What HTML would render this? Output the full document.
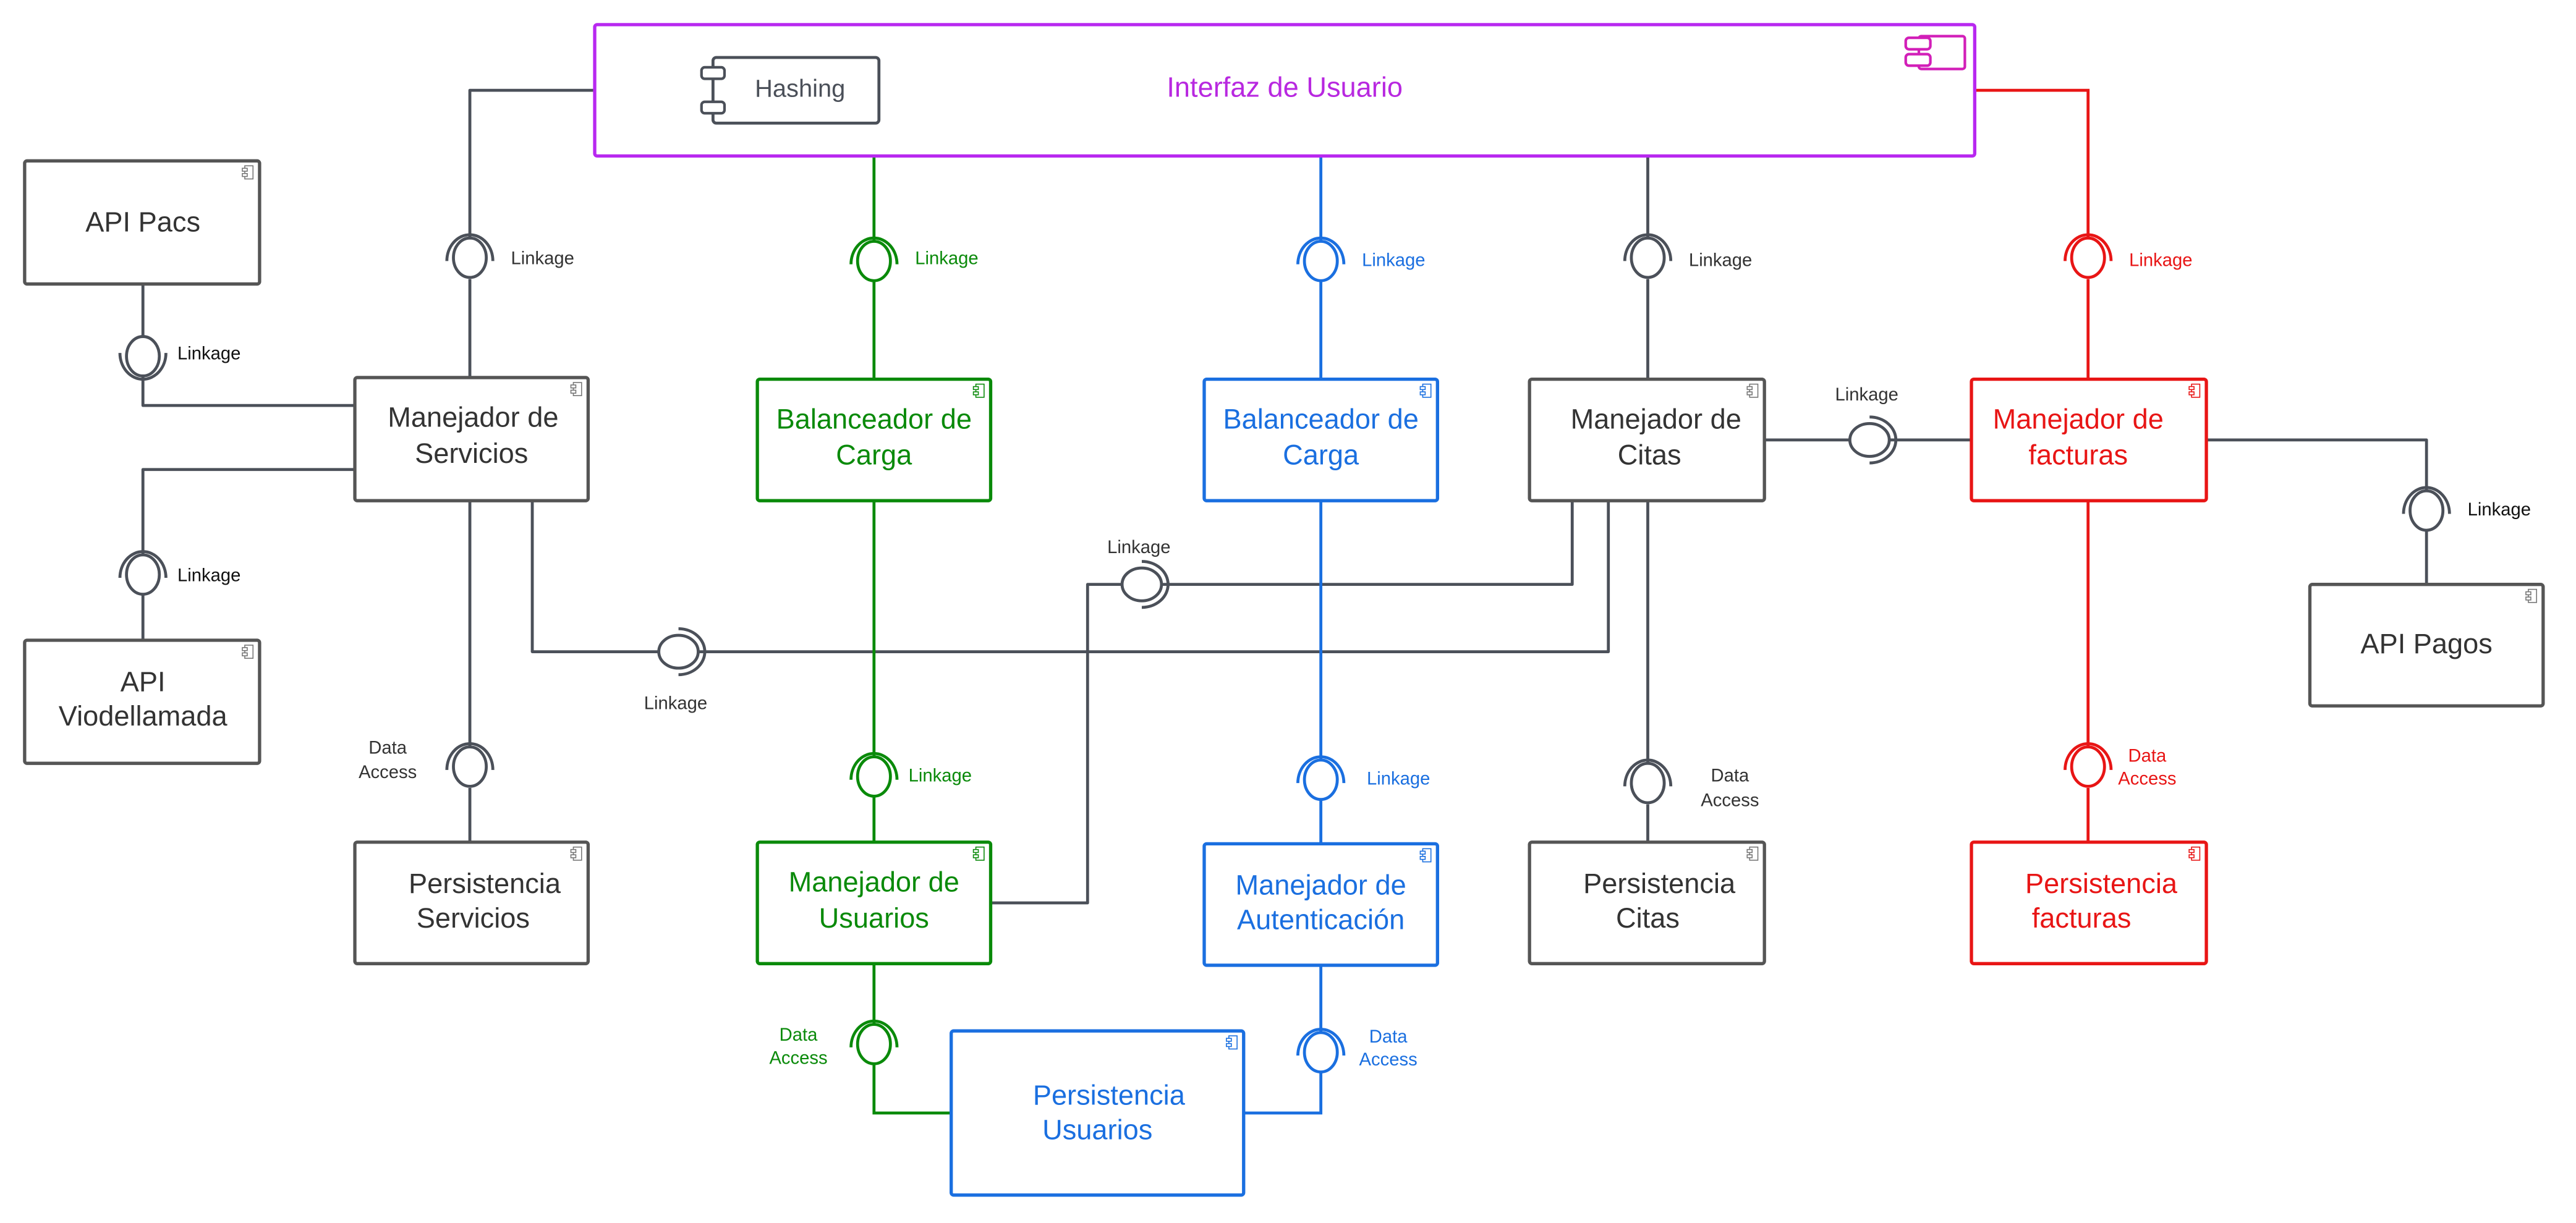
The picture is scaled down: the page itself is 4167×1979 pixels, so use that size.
<!DOCTYPE html>
<html><head><meta charset="utf-8"><style>
html,body{margin:0;padding:0;background:#fff;}
svg{display:block;}
text{font-family:"Liberation Sans",Arial,sans-serif;}
</style></head><body>
<svg width="4167" height="1979" viewBox="0 0 1568 745" preserveAspectRatio="none" xmlns="http://www.w3.org/2000/svg">
<defs>
<g id="ic"><rect x="0" y="0" width="5" height="8" fill="none" stroke-width="0.6"/><rect x="-1.5" y="1.5" width="3" height="1.8" fill="#fff" stroke-width="0.6"/><rect x="-1.5" y="4.7" width="3" height="1.8" fill="#fff" stroke-width="0.6"/></g>
</defs>
<rect width="1568" height="745" fill="#fff"/>

<!-- connectors gray -->
<g fill="none" stroke="#4b5059" stroke-width="1.8" stroke-linejoin="round">
<path d="M362,55 H286 V145 M286,170 V230"/>
<path d="M87,173 V205 M87,229 V247 H216"/>
<path d="M216,286 H87 V338 M87,362 V390"/>
<path d="M286,305 V455 M286,480 V513"/>
<path d="M324,305 V397 H401 M425,397 H979 V305"/>
<path d="M957,305 V356 H707 M684,356 H662 V550 H603"/>
<path d="M1003,305 V465 M1003,490 V513"/>
<path d="M1003,95 V145 M1003,170 V231"/>
<path d="M1074,268 H1126 M1150,268 H1200"/>
<path d="M1343,268 H1477 V299 M1477,323 V356"/>
</g>
<!-- balls gray -->
<g fill="#fff" stroke="#4b5059" stroke-width="1.8">
<ellipse cx="286" cy="157" rx="10" ry="12"/>
<ellipse cx="87" cy="217" rx="10" ry="12"/>
<ellipse cx="87" cy="350" rx="10" ry="12"/>
<ellipse cx="286" cy="467" rx="10" ry="12"/>
<ellipse cx="413" cy="397" rx="12" ry="10"/>
<ellipse cx="695" cy="356" rx="12" ry="10"/>
<ellipse cx="1003" cy="477" rx="10" ry="12"/>
<ellipse cx="1003" cy="157" rx="10" ry="12"/>
<ellipse cx="1138" cy="268" rx="12" ry="10"/>
<ellipse cx="1477" cy="311" rx="10" ry="12"/>
</g>
<g fill="none" stroke="#4b5059" stroke-width="1.8">
<path d="M272,159 A14,16 0 0 1 300,159"/>
<path d="M73,215 A14,16 0 0 0 101,215"/>
<path d="M73,352 A14,16 0 0 1 101,352"/>
<path d="M272,469 A14,16 0 0 1 300,469"/>
<path d="M413,383 A16,14 0 0 1 413,411"/>
<path d="M695,342 A16,14 0 0 1 695,370"/>
<path d="M989,479 A14,16 0 0 1 1017,479"/>
<path d="M989,159 A14,16 0 0 1 1017,159"/>
<path d="M1138,254 A16,14 0 0 1 1138,282"/>
<path d="M1463,313 A14,16 0 0 1 1491,313"/>
</g>

<!-- green -->
<g fill="none" stroke="#0a8a0a" stroke-width="1.8">
<path d="M532,95 V147 M532,171 V231"/>
<path d="M532,305 V461 M532,485 V513"/>
<path d="M532,587 V624 M532,648 V678 H579"/>
<ellipse cx="532" cy="159" rx="10" ry="12" fill="#fff"/>
<ellipse cx="532" cy="473" rx="10" ry="12" fill="#fff"/>
<ellipse cx="532" cy="636" rx="10" ry="12" fill="#fff"/>
<path d="M518,161 A14,16 0 0 1 546,161"/>
<path d="M518,475 A14,16 0 0 1 546,475"/>
<path d="M518,638 A14,16 0 0 1 546,638"/>
</g>
<!-- blue -->
<g fill="none" stroke="#1a6fe0" stroke-width="1.8">
<path d="M804,95 V147 M804,171 V231"/>
<path d="M804,305 V463 M804,487 V514"/>
<path d="M804,588 V629 M804,653 V678 H757"/>
<ellipse cx="804" cy="159" rx="10" ry="12" fill="#fff"/>
<ellipse cx="804" cy="475" rx="10" ry="12" fill="#fff"/>
<ellipse cx="804" cy="641" rx="10" ry="12" fill="#fff"/>
<path d="M790,161 A14,16 0 0 1 818,161"/>
<path d="M790,477 A14,16 0 0 1 818,477"/>
<path d="M790,643 A14,16 0 0 1 818,643"/>
</g>
<!-- red -->
<g fill="none" stroke="#e81515" stroke-width="1.8">
<path d="M1202,55 H1271 V145 M1271,170 V231"/>
<path d="M1271,305 V455 M1271,480 V513"/>
<ellipse cx="1271" cy="157" rx="10" ry="12" fill="#fff"/>
<ellipse cx="1271" cy="467" rx="10" ry="12" fill="#fff"/>
<path d="M1257,159 A14,16 0 0 1 1285,159"/>
<path d="M1257,469 A14,16 0 0 1 1285,469"/>
</g>

<!-- Interfaz -->
<rect x="362" y="15" width="840" height="80" rx="1.5" fill="#fff" stroke="#b828f0" stroke-width="2"/>
<g fill="#fff" stroke="#d21fb8" stroke-width="1.6">
<rect x="1168" y="22" width="28" height="20" rx="1.5"/>
<rect x="1160" y="23" width="15" height="7" rx="2"/>
<rect x="1160" y="33" width="15" height="7" rx="2"/>
</g>
<text x="782" y="59" font-size="17" fill="#b828e0" text-anchor="middle">Interfaz de Usuario</text>
<rect x="434" y="35" width="101" height="40" rx="2" fill="#fff" stroke="#4b5059" stroke-width="1.8"/>
<rect x="427" y="41" width="14" height="7" rx="2" fill="#fff" stroke="#4b5059" stroke-width="1.6"/>
<rect x="427" y="62" width="14" height="7" rx="2" fill="#fff" stroke="#4b5059" stroke-width="1.6"/>
<text x="487" y="59" font-size="15" fill="#4b5059" text-anchor="middle">Hashing</text>

<!-- boxes -->
<g fill="#fff" stroke-width="2">
<rect x="15" y="98" width="143" height="75" rx="1.5" stroke="#555"/>
<rect x="216" y="230" width="142" height="75" rx="1.5" stroke="#555"/>
<rect x="461" y="231" width="142" height="74" rx="1.5" stroke="#0a8a0a"/>
<rect x="733" y="231" width="142" height="74" rx="1.5" stroke="#1a6fe0"/>
<rect x="931" y="231" width="143" height="74" rx="1.5" stroke="#555"/>
<rect x="1200" y="231" width="143" height="74" rx="1.5" stroke="#e81515"/>
<rect x="1406" y="356" width="142" height="74" rx="1.5" stroke="#555"/>
<rect x="15" y="390" width="143" height="75" rx="1.5" stroke="#555"/>
<rect x="216" y="513" width="142" height="74" rx="1.5" stroke="#555"/>
<rect x="461" y="513" width="142" height="74" rx="1.5" stroke="#0a8a0a"/>
<rect x="733" y="514" width="142" height="74" rx="1.5" stroke="#1a6fe0"/>
<rect x="931" y="513" width="143" height="74" rx="1.5" stroke="#555"/>
<rect x="1200" y="513" width="143" height="74" rx="1.5" stroke="#e81515"/>
<rect x="579" y="628" width="178" height="100" rx="1.5" stroke="#1a6fe0"/>
</g>
<g>
<use href="#ic" x="149" y="101" stroke="#777"/>
<use href="#ic" x="349" y="233" stroke="#777"/>
<use href="#ic" x="594" y="234" stroke="#0a8a0a"/>
<use href="#ic" x="866" y="234" stroke="#1a6fe0"/>
<use href="#ic" x="1065" y="234" stroke="#777"/>
<use href="#ic" x="1334" y="234" stroke="#e81515"/>
<use href="#ic" x="1539" y="359" stroke="#777"/>
<use href="#ic" x="149" y="393" stroke="#777"/>
<use href="#ic" x="349" y="516" stroke="#777"/>
<use href="#ic" x="594" y="516" stroke="#0a8a0a"/>
<use href="#ic" x="866" y="517" stroke="#1a6fe0"/>
<use href="#ic" x="1065" y="516" stroke="#777"/>
<use href="#ic" x="1334" y="516" stroke="#e81515"/>
<use href="#ic" x="748" y="631" stroke="#1a6fe0"/>
</g>

<!-- box text -->
<g font-size="17" text-anchor="middle">
<text x="87" y="141" fill="#333">API Pacs</text>
<text x="288" y="260" fill="#333">Manejador de</text><text x="287" y="282" fill="#333">Servicios</text>
<text x="532" y="261" fill="#0a8a0a">Balanceador de</text><text x="532" y="283" fill="#0a8a0a">Carga</text>
<text x="804" y="261" fill="#1a6fe0">Balanceador de</text><text x="804" y="283" fill="#1a6fe0">Carga</text>
<text x="1008" y="261" fill="#333">Manejador de</text><text x="1004" y="283" fill="#333">Citas</text>
<text x="1265" y="261" fill="#e81515">Manejador de</text><text x="1265" y="283" fill="#e81515">facturas</text>
<text x="1477" y="398" fill="#333">API Pagos</text>
<text x="87" y="421" fill="#333">API</text><text x="87" y="442" fill="#333">Viodellamada</text>
<text x="295" y="544" fill="#333">Persistencia</text><text x="288" y="565" fill="#333">Servicios</text>
<text x="532" y="543" fill="#0a8a0a">Manejador de</text><text x="532" y="565" fill="#0a8a0a">Usuarios</text>
<text x="804" y="545" fill="#1a6fe0">Manejador de</text><text x="804" y="566" fill="#1a6fe0">Autenticación</text>
<text x="1010" y="544" fill="#333">Persistencia</text><text x="1003" y="565" fill="#333">Citas</text>
<text x="1279" y="544" fill="#e81515">Persistencia</text><text x="1267" y="565" fill="#e81515">facturas</text>
<text x="675" y="673" fill="#1a6fe0">Persistencia</text><text x="668" y="694" fill="#1a6fe0">Usuarios</text>
</g>

<!-- labels -->
<g font-size="11">
<text x="311" y="161" fill="#333">Linkage</text>
<text x="108" y="219" fill="#111">Linkage</text>
<text x="108" y="354" fill="#111">Linkage</text>
<text x="392" y="432" fill="#333">Linkage</text>
<text x="674" y="337" fill="#333">Linkage</text>
<text x="1028" y="162" fill="#333">Linkage</text>
<text x="1117" y="244" fill="#333">Linkage</text>
<text x="1502" y="314" fill="#111">Linkage</text>
<text x="557" y="161" fill="#0a8a0a">Linkage</text>
<text x="553" y="476" fill="#0a8a0a">Linkage</text>
<text x="829" y="162" fill="#1a6fe0">Linkage</text>
<text x="832" y="478" fill="#1a6fe0">Linkage</text>
<text x="1296" y="162" fill="#e81515">Linkage</text>
<g text-anchor="middle">
<text x="236" y="459" fill="#333">Data</text><text x="236" y="474" fill="#333">Access</text>
<text x="1053" y="476" fill="#333">Data</text><text x="1053" y="491" fill="#333">Access</text>
<text x="1307" y="464" fill="#e81515">Data</text><text x="1307" y="478" fill="#e81515">Access</text>
<text x="486" y="634" fill="#0a8a0a">Data</text><text x="486" y="648" fill="#0a8a0a">Access</text>
<text x="845" y="635" fill="#1a6fe0">Data</text><text x="845" y="649" fill="#1a6fe0">Access</text>
</g>
</g>
</svg>
</body></html>
